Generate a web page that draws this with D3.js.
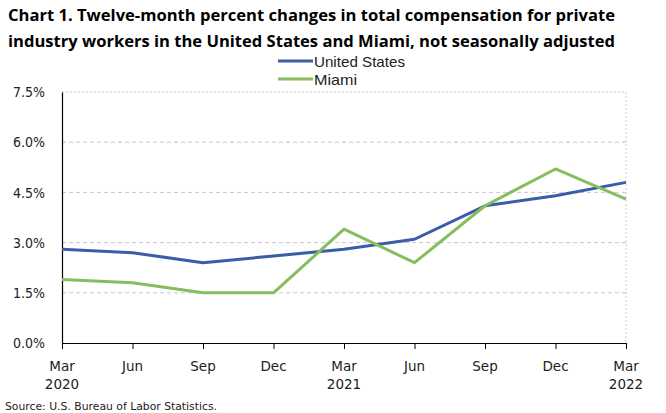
<!DOCTYPE html>
<html><head><meta charset="utf-8">
<script src="https://cdn.jsdelivr.net/npm/d3@7"></script>
<style>body{margin:0;background:#fff;} svg{display:block;}</style>
</head><body>
<svg id="chart" width="666" height="413"></svg>
<script>
const periods = ["Mar 2020","Jun 2020","Sep 2020","Dec 2020","Mar 2021","Jun 2021","Sep 2021","Dec 2021","Mar 2022"];
const monthLabels = ["Mar","Jun","Sep","Dec","Mar","Jun","Sep","Dec","Mar"];
const yearLabels = ["2020","","","","2021","","","","2022"];
const unitedStates = [2.8, 2.7, 2.4, 2.6, 2.8, 3.1, 4.1, 4.4, 4.8];
const miami = [1.9, 1.8, 1.5, 1.5, 3.4, 2.4, 4.1, 5.2, 4.3];
const yTicks = [0, 1.5, 3.0, 4.5, 6.0, 7.5];
const seriesNames = ["United States", "Miami"];
const seriesColors = ["#3A5DA8", "#86BD5E"];

const svg = d3.select("#chart");
const L = 62, R = 626, T = 92, B = 343;
const x = d3.scalePoint().domain(periods).range([L, R]);
const y = d3.scaleLinear().domain([0, 7.5]).range([B, T]);

// Title
const title = svg.append("g").attr("font-family", "'Open Sans', sans-serif").attr("font-weight", "bold").attr("font-size", 16.2).attr("fill", "#000");
title.append("text").attr("x", 8).attr("y", 21).attr("textLength", 607).attr("lengthAdjust","spacingAndGlyphs").text("Chart 1. Twelve-month percent changes in total compensation for private");
title.append("text").attr("x", 8).attr("y", 47).attr("textLength", 607).attr("lengthAdjust","spacingAndGlyphs").text("industry workers in the United States and Miami, not seasonally adjusted");

// Gridlines
svg.append("g").selectAll("line").data(yTicks.filter(d => d > 0)).join("line")
  .attr("x1", L).attr("x2", R).attr("y1", d => y(d)).attr("y2", d => y(d))
  .attr("stroke", "#c8c8c8").attr("stroke-width", 1)
  .attr("stroke-dasharray", d => d === 7.5 ? "2,2" : "4,3");
svg.append("line").attr("x1", R).attr("x2", R).attr("y1", T).attr("y2", B)
  .attr("stroke", "#c8c8c8").attr("stroke-dasharray", "2,2");

// Y axis
const yAxis = svg.append("g").attr("transform", `translate(${L},0)`)
  .call(d3.axisLeft(y).tickValues(yTicks).tickSize(0).tickPadding(17).tickFormat(d => d.toFixed(1) + "%"));
yAxis.select(".domain").attr("stroke", "#000").attr("stroke-width", 1.2);
yAxis.selectAll("text").attr("font-family", "'DejaVu Sans', sans-serif").attr("font-size", 13.5).attr("fill", "#222")
  .attr("dy", "0.35em").attr("textLength", 32).attr("lengthAdjust", "spacingAndGlyphs");

// X axis
const xAxis = svg.append("g").attr("transform", `translate(0,${B})`)
  .call(d3.axisBottom(x).tickSize(6).tickSizeOuter(0).tickFormat(() => ""));
xAxis.select(".domain").attr("stroke", "#000").attr("stroke-width", 1.2);
xAxis.selectAll(".tick line").attr("stroke", "#000");
const xl = svg.append("g").attr("font-family", "'DejaVu Sans', sans-serif").attr("font-size", 13.5).attr("fill", "#222").attr("text-anchor", "middle");
xl.selectAll("text.m").data(periods).join("text").attr("class","m")
  .attr("x", d => x(d)).attr("y", 371).text((d, i) => monthLabels[i]);
xl.selectAll("text.yr").data(periods).join("text").attr("class","yr")
  .attr("x", d => x(d)).attr("y", 389).text((d, i) => yearLabels[i]);

// Lines
const line = d3.line().x((d, i) => x(periods[i])).y(d => y(d));
[unitedStates, miami].forEach((vals, k) => {
  svg.append("path").datum(vals).attr("d", line).attr("fill", "none")
    .attr("stroke", seriesColors[k]).attr("stroke-width", 3).attr("stroke-linejoin", "round");
});

// Legend
const lg = svg.append("g");
const legendWidths = [91, 43];
seriesNames.forEach((n, k) => {
  const yy = 61 + k * 18;
  lg.append("line").attr("x1", 278).attr("x2", 313).attr("y1", yy).attr("y2", yy)
    .attr("stroke", seriesColors[k]).attr("stroke-width", 3);
  lg.append("text").attr("x", 314).attr("y", yy + 5.5).attr("font-family", "'Liberation Sans', sans-serif")
    .attr("font-size", 15).attr("fill", "#222").attr("textLength", legendWidths[k]).attr("lengthAdjust", "spacingAndGlyphs").text(n);
});

// Source
svg.append("text").attr("x", 5).attr("y", 410).attr("font-family", "'DejaVu Sans', sans-serif")
  .attr("font-size", 10.5).attr("fill", "#222").attr("textLength", 212).attr("lengthAdjust", "spacingAndGlyphs").text("Source: U.S. Bureau of Labor Statistics.");
</script>
</body></html>
